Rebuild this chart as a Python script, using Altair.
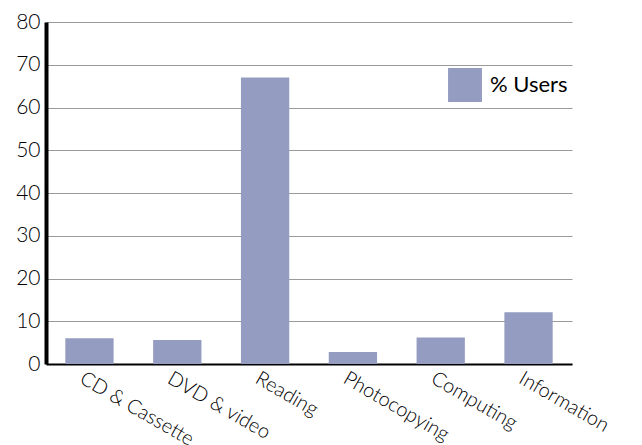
import altair as alt
import pandas as pd

categories = ["CD & Cassette", "DVD & video", "Reading", "Photocopying", "Computing", "Information"]
users = [6.0, 5.6, 67.0, 2.8, 6.2, 12.1]
series = ["% Users"] * len(categories)

df = pd.DataFrame({"category": categories, "value": users, "series": series})

FONT = "Lato"

chart = alt.Chart(df).mark_bar(color="#949CC2").encode(
    x=alt.X("category:N", sort=categories, title=None,
            scale=alt.Scale(paddingInner=0.45, paddingOuter=0.22),
            axis=alt.Axis(labelAngle=30, labelAlign="left", labelBaseline="top",
                          labelPadding=4, labelOffset=-3, ticks=False,
                          domainColor="black", domainWidth=2,
                          labelFont=FONT, labelFontSize=20, labelFontWeight=300,
                          labelColor="#000", grid=False)),
    y=alt.Y("value:Q", title=None,
            scale=alt.Scale(domain=[0, 80], nice=False),
            axis=alt.Axis(values=list(range(0, 81, 10)), ticks=False,
                          domainColor="black", domainWidth=4,
                          labelFont=FONT, labelFontSize=21, labelFontWeight=300,
                          labelColor="#000",
                          labelPadding=6, gridColor="#9a9a9a", gridWidth=1)),
    fill=alt.Fill("series:N", scale=alt.Scale(range=["#949CC2"]),
                  legend=alt.Legend(title=None, orient="none", legendX=402, legendY=46,
                                    symbolType="square", symbolSize=1150,
                                    symbolStrokeWidth=0, labelFont=FONT,
                                    labelFontSize=22, labelFontWeight=400,
                                    labelColor="#000", labelOffset=8)),
).properties(
    width=526, height=342,
    padding={"left": 46, "top": 22, "right": 70, "bottom": 81},
    autosize=alt.AutoSizeParams(type="none"),
).configure_view(stroke=None)

chart.save("out.html", embed_options={"renderer": "svg", "actions": False})
